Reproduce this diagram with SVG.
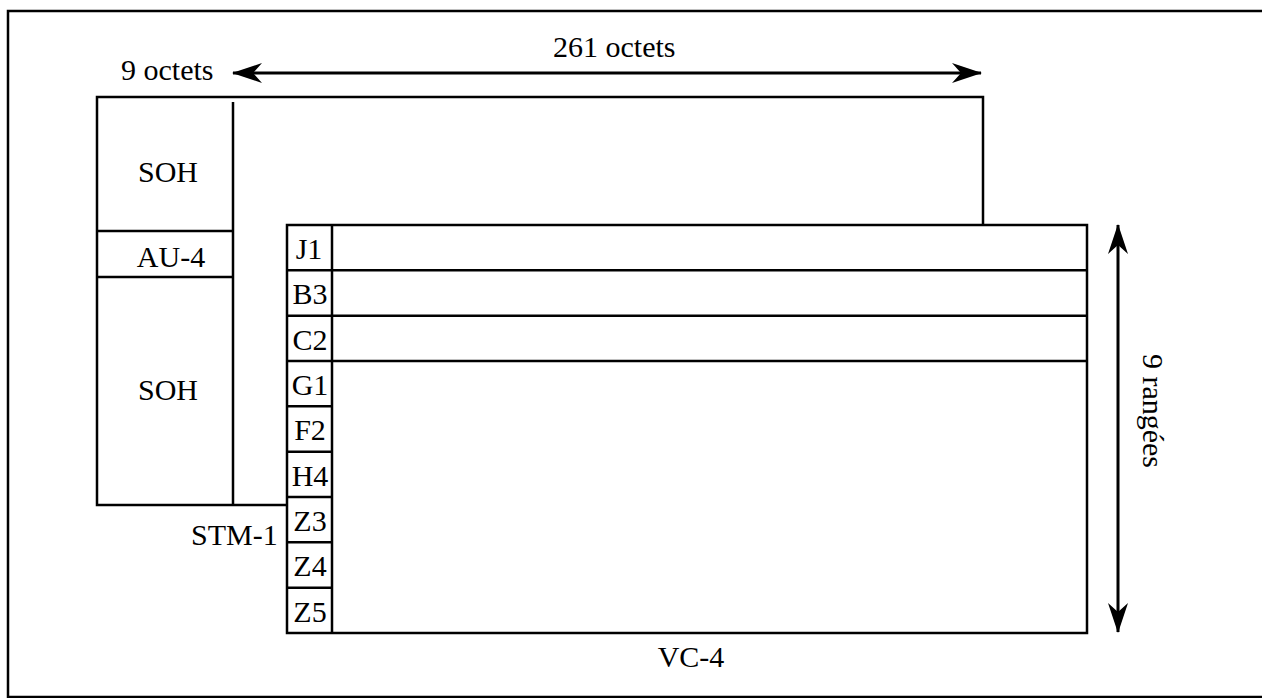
<svg xmlns="http://www.w3.org/2000/svg" width="1262" height="698" viewBox="0 0 1262 698">
<style>
text{font-family:'Liberation Serif','Times New Roman',serif;font-size:30px;fill:#000}
.m{text-anchor:middle}
.ln{stroke:#000;stroke-width:2.5;fill:none}
.box{stroke:#000;stroke-width:2.5;fill:#fff}
.arr{stroke:#000;stroke-width:3;fill:none}
</style>
<defs>
<marker id="ah" viewBox="0 0 30 20" refX="29" refY="10" markerWidth="30" markerHeight="20" markerUnits="userSpaceOnUse" orient="auto-start-reverse">
<path d="M30,10 L0,0 L9,10 L0,20 Z" fill="#000"/>
</marker>
</defs>
<path d="M1262,11 H8 V697 H1262" fill="none" stroke="#000" stroke-width="2.5"/>
<g id="stm1">
<rect class="box" x="97" y="97" width="886" height="408"/>
<line class="ln" x1="233" y1="102" x2="233" y2="505"/>
<line class="ln" x1="97" y1="231" x2="233" y2="231"/>
<line class="ln" x1="97" y1="277" x2="233" y2="277"/>
<text class="m" x="168" y="182">SOH</text>
<text class="m" x="171" y="267">AU-4</text>
<text class="m" x="168" y="400">SOH</text>
<text x="191" y="545">STM-1</text>
</g>
<g id="vc4">
<rect class="box" x="287" y="225" width="800" height="408"/>
<line class="ln" x1="332" y1="225" x2="332" y2="633"/>
<line class="ln" x1="287" y1="270.3" x2="1087" y2="270.3"/>
<line class="ln" x1="287" y1="315.7" x2="1087" y2="315.7"/>
<line class="ln" x1="287" y1="361" x2="1087" y2="361"/>
<line class="ln" x1="287" y1="406.3" x2="332" y2="406.3"/>
<line class="ln" x1="287" y1="451.7" x2="332" y2="451.7"/>
<line class="ln" x1="287" y1="497" x2="332" y2="497"/>
<line class="ln" x1="287" y1="542.3" x2="332" y2="542.3"/>
<line class="ln" x1="287" y1="587.7" x2="332" y2="587.7"/>
<text class="m" x="309" y="259">J1</text>
<text class="m" x="310" y="304.3">B3</text>
<text class="m" x="310" y="349.7">C2</text>
<text class="m" x="310" y="395">G1</text>
<text class="m" x="310" y="440.3">F2</text>
<text class="m" x="310" y="485.7">H4</text>
<text class="m" x="310" y="531">Z3</text>
<text class="m" x="310" y="576.3">Z4</text>
<text class="m" x="310" y="621.7">Z5</text>
<text class="m" x="691" y="667">VC-4</text>
</g>
<g id="connectors">
<line class="arr" x1="233" y1="73" x2="981" y2="73" marker-start="url(#ah)" marker-end="url(#ah)"/>
<line class="arr" x1="1118" y1="225" x2="1118" y2="632" marker-start="url(#ah)" marker-end="url(#ah)"/>
</g>
<g id="labels">
<text x="121" y="80">9 octets</text>
<text x="553" y="57">261 octets</text>
<text class="m" transform="translate(1143,411) rotate(90)">9 rangées</text>
</g>
</svg>
